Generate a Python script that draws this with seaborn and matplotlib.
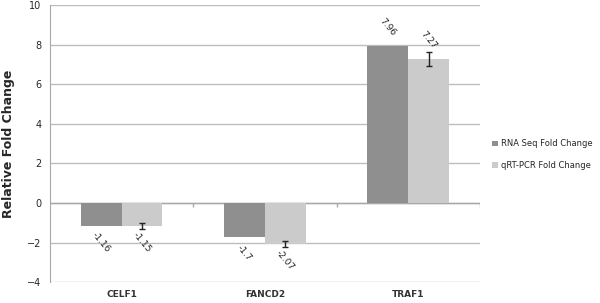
import matplotlib
matplotlib.use("Agg")
import matplotlib.pyplot as plt
import matplotlib.transforms as mtransforms
import seaborn as sns
import pandas as pd
import numpy as np

genes = ["CELF1", "FANCD2", "TRAF1"]
series = ["RNA Seq Fold Change", "qRT-PCR Fold Change"]
rna_seq = [-1.16, -1.7, 7.96]
qrt_pcr = [-1.15, -2.07, 7.27]
qrt_err = [0.15, 0.15, 0.35]
y_ticks = [-4, -2, 0, 2, 4, 6, 8, 10]

df = pd.DataFrame({
    "gene": genes * 2,
    "series": [series[0]] * 3 + [series[1]] * 3,
    "value": rna_seq + qrt_pcr,
})

sns.set_style("white")
plt.rcParams['font.family'] = ['DejaVu Sans']

fig = plt.figure(figsize=(6, 3.03), dpi=100)
ax = fig.add_axes([0.083, 0.069, 0.717, 0.914])

palette = {series[0]: "#8f8f8f", series[1]: "#cbcbcb"}
sns.barplot(data=df, x="gene", y="value", hue="series", palette=palette,
            width=0.57, gap=0, errorbar=None, ax=ax, saturation=1, zorder=3,
            linewidth=0, edgecolor="none")
ax.set_xlim(-0.5, len(genes) - 0.5)

ax.set_ylim(-4, 10)
ax.set_yticks(y_ticks)
ax.yaxis.grid(True, color="#bdbdbd", linewidth=1, zorder=0)
ax.set_axisbelow(True)
for s in ["top", "right", "bottom"]:
    ax.spines[s].set_visible(False)
ax.spines["left"].set_color("#a8a8a8")
ax.axhline(0, color="#a8a8a8", linewidth=1, zorder=2)

# small category-boundary ticks on the zero line
trans = mtransforms.offset_copy(ax.transData, fig=fig, x=0, y=0, units="points")
bounds = np.arange(len(genes)) + 0.5
ax.vlines(bounds, -0.2, 0, color="#a8a8a8", linewidth=1, zorder=2)

ax.tick_params(axis="y", labelsize=7, length=3, color="#a8a8a8", pad=3)
ax.tick_params(axis="x", labelsize=6.5, length=0, pad=6)
for lbl in ax.get_xticklabels():
    lbl.set_fontweight("bold")
    lbl.set_color("#333333")
ax.set_xlabel("")
ax.set_ylabel("Relative Fold Change", fontsize=9, fontweight="bold")
ax.yaxis.set_label_coords(-0.081, 0.5)

# error bars on qRT-PCR
cont_qrt = ax.containers[1]
xs = [p.get_x() + p.get_width() / 2 for p in cont_qrt.patches]
ax.errorbar(xs, qrt_pcr, yerr=qrt_err, fmt="none", ecolor="#222222",
            elinewidth=1, capsize=2, capthick=1, zorder=4)

# data labels
for cont, vals in zip(ax.containers, [rna_seq, qrt_pcr]):
    for p, v in zip(cont.patches, vals):
        cx = p.get_x() + p.get_width() / 2
        dy = -12 if v < 0 else 13.5
        ax.annotate(f"{v:g}", (cx, v), xytext=(0, dy), textcoords="offset points",
                    rotation=-50, ha="center", va="center", fontsize=6.5,
                    rotation_mode="anchor", color="#222222", zorder=5)

leg = ax.legend(loc="center left", bbox_to_anchor=(1.02, 0.46), frameon=False,
                fontsize=6, handlelength=0.7, handleheight=0.7, handletextpad=0.4,
                labelspacing=1.5, borderaxespad=0)

fig.savefig("out.png", dpi=100, facecolor="white")
